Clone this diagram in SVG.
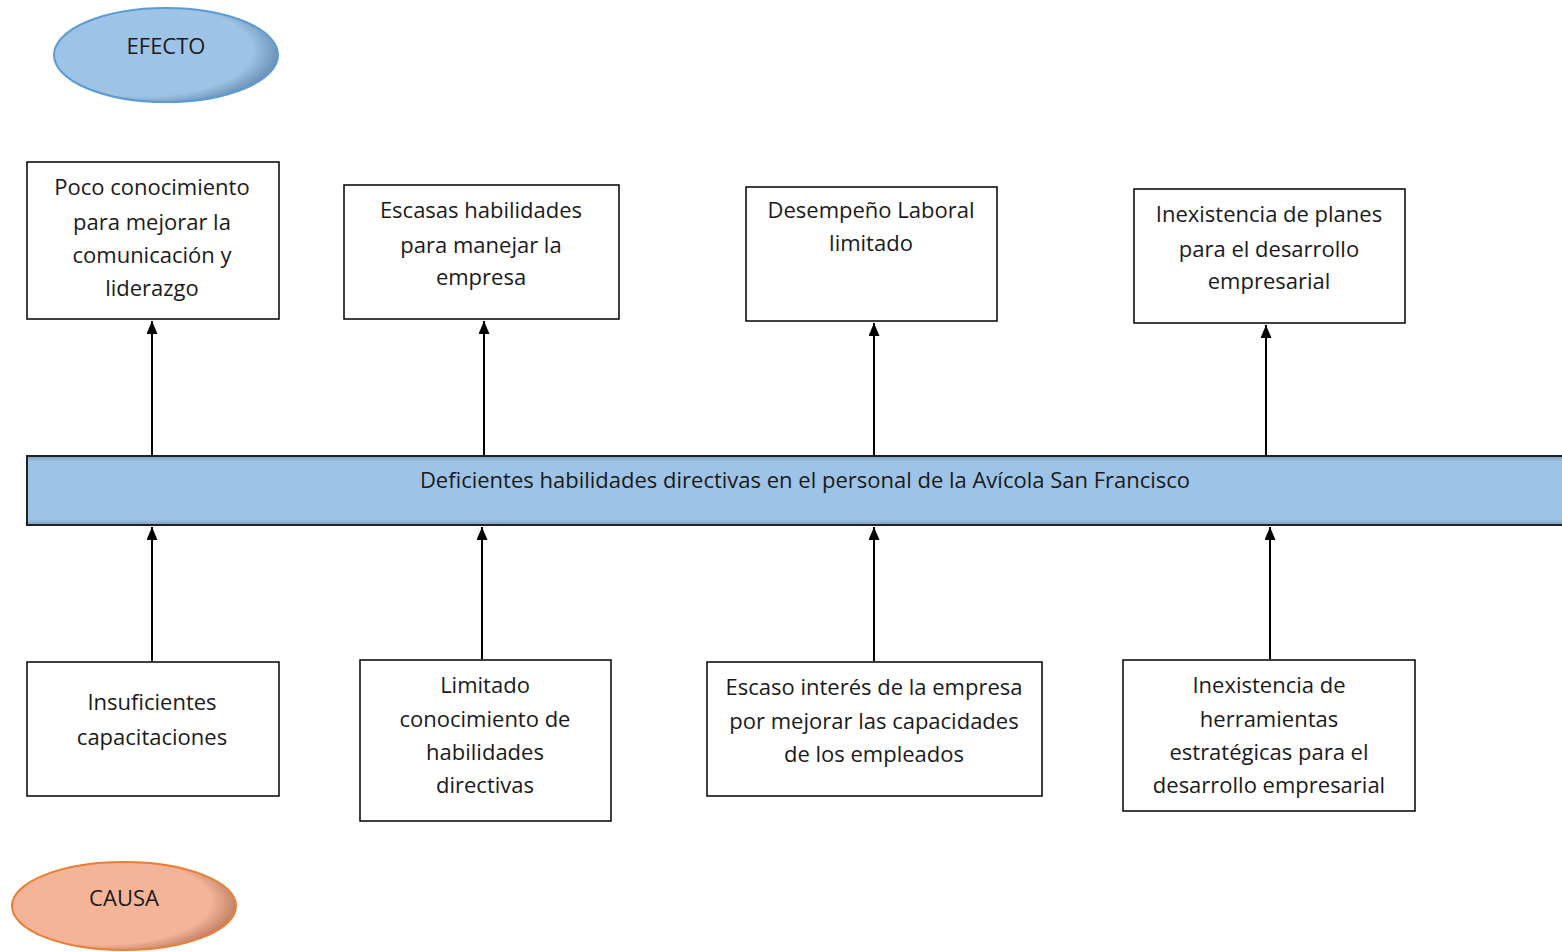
<svg xmlns="http://www.w3.org/2000/svg" width="1562" height="952" viewBox="0 0 1562 952">
<style>
.box{fill:#fff;stroke:#000;stroke-width:1.5}
.t{font-family:"Open Sans","Noto Sans",sans-serif;font-size:22px;fill:#1a1a1a;text-anchor:middle;dominant-baseline:central}
.c{stroke:#000;stroke-width:2;fill:none;marker-end:url(#ah)}
</style>
<defs>
<marker id="ah" markerWidth="13" markerHeight="11" refX="13" refY="5.5" orient="auto" markerUnits="userSpaceOnUse" viewBox="0 0 13 11">
<path d="M0,0 L13,5.5 L0,11 Z" fill="#000"/>
</marker>
<radialGradient id="gb" cx="0.4" cy="0.45" r="0.65">
<stop offset="0.75" stop-color="#9DC3E6"/><stop offset="1" stop-color="#5a7fa5"/>
</radialGradient>
<radialGradient id="go" cx="0.4" cy="0.45" r="0.65">
<stop offset="0.75" stop-color="#F4B497"/><stop offset="1" stop-color="#b07058"/>
</radialGradient>
<linearGradient id="band" x1="0" y1="0" x2="0" y2="1">
<stop offset="0" stop-color="#7f9dbd"/><stop offset="0.08" stop-color="#9DC3E6"/><stop offset="0.92" stop-color="#9DC3E6"/><stop offset="1" stop-color="#7f9dbd"/>
</linearGradient>
</defs>
<g id="efecto">
<ellipse cx="166" cy="55" rx="112" ry="47" fill="url(#gb)" stroke="#5B9BD5" stroke-width="2"/>
<text class="t" x="166" y="45">EFECTO</text>
</g>
<g id="causa">
<ellipse cx="124" cy="906" rx="112" ry="44" fill="url(#go)" stroke="#ED7D31" stroke-width="2"/>
<text class="t" x="124" y="897">CAUSA</text>
</g>
<g id="problema">
<rect x="27" y="456" width="1545" height="69" fill="url(#band)" stroke="#222" stroke-width="2"/>
<text class="t" x="805" y="479">Deficientes habilidades directivas en el personal de la Avícola San Francisco</text>
</g>
<g id="e1">
<rect class="box" x="27" y="162" width="252" height="157"/>
<text class="t" x="152" y="186">Poco conocimiento</text>
<text class="t" x="152" y="221">para mejorar la</text>
<text class="t" x="152" y="254">comunicación y</text>
<text class="t" x="152" y="287">liderazgo</text>
</g>
<g id="e2">
<rect class="box" x="344" y="185" width="275" height="134"/>
<text class="t" x="481" y="209">Escasas habilidades</text>
<text class="t" x="481" y="244">para manejar la</text>
<text class="t" x="481" y="276">empresa</text>
</g>
<g id="e3">
<rect class="box" x="746" y="187" width="251" height="134"/>
<text class="t" x="871" y="209">Desempeño Laboral</text>
<text class="t" x="871" y="242">limitado</text>
</g>
<g id="e4">
<rect class="box" x="1134" y="189" width="271" height="134"/>
<text class="t" x="1269" y="213">Inexistencia de planes</text>
<text class="t" x="1269" y="248">para el desarrollo</text>
<text class="t" x="1269" y="280">empresarial</text>
</g>
<g id="c1">
<rect class="box" x="27" y="662" width="252" height="134"/>
<text class="t" x="152" y="701">Insuficientes</text>
<text class="t" x="152" y="736">capacitaciones</text>
</g>
<g id="c2">
<rect class="box" x="360" y="660" width="251" height="161"/>
<text class="t" x="485" y="684">Limitado</text>
<text class="t" x="485" y="718">conocimiento de</text>
<text class="t" x="485" y="751">habilidades</text>
<text class="t" x="485" y="784">directivas</text>
</g>
<g id="c3">
<rect class="box" x="707" y="662" width="335" height="134"/>
<text class="t" x="874" y="686">Escaso interés de la empresa</text>
<text class="t" x="874" y="720">por mejorar las capacidades</text>
<text class="t" x="874" y="753">de los empleados</text>
</g>
<g id="c4">
<rect class="box" x="1123" y="660" width="292" height="151"/>
<text class="t" x="1269" y="684">Inexistencia de</text>
<text class="t" x="1269" y="718">herramientas</text>
<text class="t" x="1269" y="751">estratégicas para el</text>
<text class="t" x="1269" y="784">desarrollo empresarial</text>
</g>
<g id="connectors">
<line class="c" x1="152" y1="455" x2="152" y2="321"/>
<line class="c" x1="484" y1="455" x2="484" y2="321"/>
<line class="c" x1="874" y1="455" x2="874" y2="323"/>
<line class="c" x1="1266" y1="455" x2="1266" y2="325"/>
<line class="c" x1="152" y1="661" x2="152" y2="527"/>
<line class="c" x1="482" y1="659" x2="482" y2="527"/>
<line class="c" x1="874" y1="661" x2="874" y2="527"/>
<line class="c" x1="1270" y1="659" x2="1270" y2="527"/>
</g>
</svg>
